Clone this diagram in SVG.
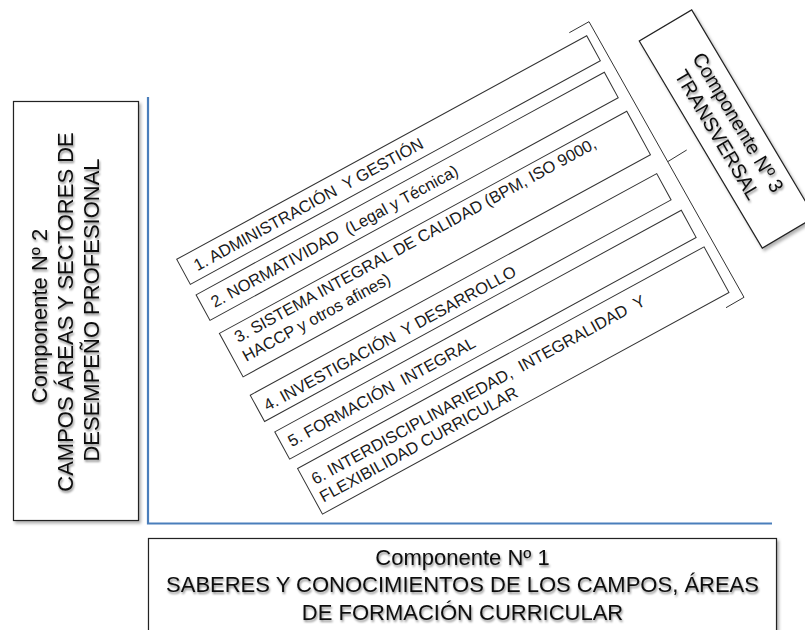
<svg xmlns="http://www.w3.org/2000/svg" width="805" height="630" viewBox="0 0 805 630">
  <defs>
    <filter id="tsh" x="-10%" y="-10%" width="120%" height="120%">
      <feDropShadow dx="1" dy="2" stdDeviation="1.3" flood-color="#000" flood-opacity="0.45"/>
    </filter>
    <filter id="bsh" x="-10%" y="-10%" width="120%" height="120%">
      <feDropShadow dx="2" dy="2.5" stdDeviation="1.6" flood-color="#000" flood-opacity="0.3"/>
    </filter>
  </defs>
  <style>
    .t { font-family: "Liberation Sans", Arial, sans-serif; fill: #111; }
    .big { font-size: 22px; }
    .mid { font-size: 20px; }
    .item { font-size: 16.5px; fill: #1a1a1a; }
    .box { fill: #fff; stroke: #222; stroke-width: 1.2; }
    .ibox { fill: #fff; stroke: #333; stroke-width: 1; }
    .axis { stroke: #4a7ebb; stroke-width: 2.2; fill: none; }
    .brk { stroke: #333; stroke-width: 1; fill: none; }
  </style>
  <rect width="805" height="630" fill="#fff"/>

  <g id="connectors">
    <path class="axis" d="M148,97 L148,523.5 L772,523.5"/>
    <path class="brk" d="M569.3,32.7 L589,21.7 L744,297.3 L726,307.7"/>
    <path class="brk" d="M668,161.5 L686.7,150"/>
  </g>

  <g id="comp2">
    <rect class="box" x="13.5" y="101.5" width="125" height="419" filter="url(#bsh)"/>
    <g filter="url(#tsh)">
      <text class="t big" text-anchor="middle" transform="translate(46.5,316) rotate(-90)">Componente Nº 2</text>
      <text class="t big" text-anchor="middle" transform="translate(72.5,312) rotate(-90)">CAMPOS ÁREAS Y SECTORES DE</text>
      <text class="t big" text-anchor="middle" transform="translate(98.5,310) rotate(-90)">DESEMPEÑO PROFESIONAL</text>
    </g>
  </g>

  <g id="comp1">
    <rect class="box" x="148.5" y="538.5" width="628" height="110" filter="url(#bsh)"/>
    <g filter="url(#tsh)">
      <text class="t big" text-anchor="middle" x="462.5" y="565">Componente Nº 1</text>
      <text class="t big" text-anchor="middle" x="462.5" y="592">SABERES Y CONOCIMIENTOS DE LOS CAMPOS, ÁREAS</text>
      <text class="t big" text-anchor="middle" x="462.5" y="619.5">DE FORMACIÓN CURRICULAR</text>
    </g>
  </g>

  <g id="comp3">
    <g filter="url(#bsh)">
      <rect class="box" x="-120.5" y="-30.5" width="241" height="61" transform="translate(727,129) rotate(59.3)"/>
    </g>
    <g filter="url(#tsh)">
      <text class="t mid" text-anchor="middle" transform="translate(727,129) rotate(59.3)" x="0" y="-6">Componente Nº 3</text>
      <text class="t mid" text-anchor="middle" transform="translate(727,129) rotate(59.3)" x="0" y="18">TRANSVERSAL</text>
    </g>
  </g>

  <g transform="translate(176.7,259.3) rotate(-28.6)">
    <g id="item1">
      <rect class="ibox" x="0" y="0" width="467" height="28.5"/>
      <text class="t item" xml:space="preserve" x="12.5" y="20.5">1. ADMINISTRACIÓN  Y GESTIÓN</text>
    </g>
    <g id="item2">
      <rect class="ibox" x="0" y="40.5" width="465" height="29"/>
      <text class="t item" xml:space="preserve" x="10" y="61">2. NORMATIVIDAD  (Legal y Técnica)</text>
    </g>
    <g id="item3">
      <rect class="ibox" x="2" y="85.5" width="464" height="49.5"/>
      <text class="t item" xml:space="preserve" x="14" y="103">3. SISTEMA INTEGRAL DE CALIDAD (BPM, ISO 9000,</text>
      <text class="t item" xml:space="preserve" x="12" y="123.5">HACCP y otros afines)</text>
    </g>
    <g id="item4">
      <rect class="ibox" x="-0.5" y="154.5" width="463" height="30"/>
      <text class="t item" xml:space="preserve" x="7" y="177">4. INVESTIGACIÓN  Y DESARROLLO</text>
    </g>
    <g id="item5">
      <rect class="ibox" x="3.5" y="198.5" width="463" height="31"/>
      <text class="t item" xml:space="preserve" x="11" y="220">5. FORMACIÓN  INTEGRAL</text>
    </g>
    <g id="item6">
      <rect class="ibox" x="6" y="241.5" width="463" height="52"/>
      <text class="t item" xml:space="preserve" x="13.5" y="264.5">6. INTERDISCIPLINARIEDAD,  INTEGRALIDAD  Y</text>
      <text class="t item" xml:space="preserve" x="12.5" y="284">FLEXIBILIDAD CURRICULAR</text>
    </g>
  </g>
</svg>
